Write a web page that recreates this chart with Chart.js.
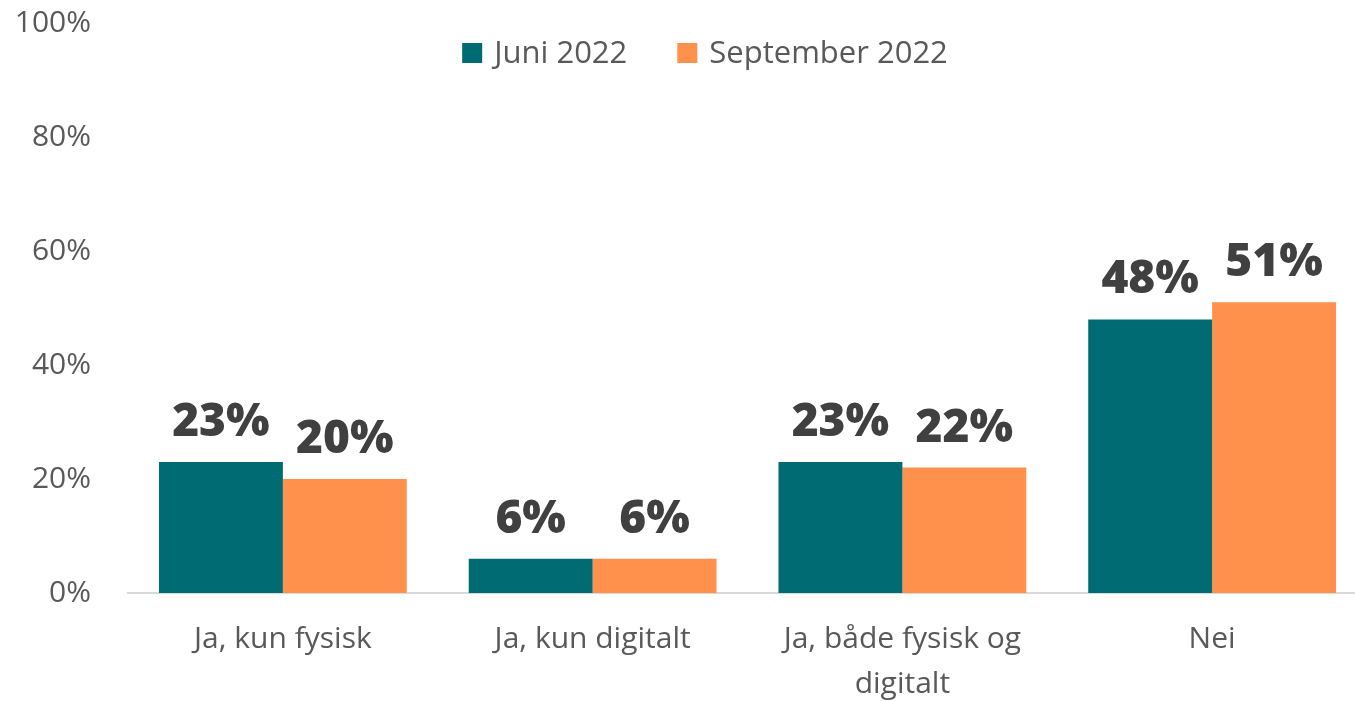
<html>
  <head>
    <title>Juni vs September 2022</title>
    <script src="https://cdn.jsdelivr.net/npm/chart.js"></script>
    <style>
      body { margin: 0; background: #fff; overflow: hidden; }
      #wrap { width: 1367px; height: 701px; }
    </style>
  </head>
  <body>
    <div id="wrap">
      <canvas id="myChart"></canvas>
    </div>

  <script>
    // data
    const categories = [["Ja, kun fysisk"], ["Ja, kun digitalt"], ["Ja, både fysisk og", "digitalt"], ["Nei"]];
    const seriesNames = ["Juni 2022", "September 2022"];
    const juni = [23, 6, 23, 48];
    const september = [20, 6, 22, 51];
    const yTicks = [0, 20, 40, 60, 80, 100];

    const colors = ["#006B73", "#FF914D"];
    const fontFam = "'Open Sans', sans-serif";

    // value labels above each bar
    const valueLabels = {
      id: "valueLabels",
      afterDatasetsDraw(chart) {
        const ctx = chart.ctx;
        ctx.save();
        ctx.font = "800 46px " + fontFam;
        ctx.fillStyle = "#404040";
        ctx.textAlign = "center";
        ctx.textBaseline = "alphabetic";
        chart.data.datasets.forEach((ds, i) => {
          chart.getDatasetMeta(i).data.forEach((bar, j) => {
            ctx.fillText(ds.data[j] + "%", bar.x, bar.y - 26);
          });
        });
        ctx.restore();
      }
    };

    // excel style legend sitting inside the plot area
    const topLegend = {
      id: "topLegend",
      afterDraw(chart) {
        const ctx = chart.ctx;
        ctx.save();
        ctx.font = "31px " + fontFam;
        const box = 20, gap = 12, spacing = 50;
        const items = chart.data.datasets.map(ds => ({ text: ds.label, color: ds.backgroundColor, w: ctx.measureText(ds.label).width }));
        let total = 0;
        items.forEach((it, i) => { total += box + gap + it.w + (i < items.length - 1 ? spacing : 0); });
        let x = 705 - total / 2;
        const cy = 53;
        items.forEach(it => {
          ctx.fillStyle = it.color;
          ctx.fillRect(x, cy - box / 2, box, box);
          x += box + gap;
          ctx.fillStyle = "#595959";
          ctx.textAlign = "left";
          ctx.textBaseline = "middle";
          ctx.fillText(it.text, x, cy + 1);
          x += it.w + spacing;
        });
        ctx.restore();
      }
    };

    const data = {
      labels: categories,
      datasets: [
        { label: seriesNames[0], data: juni, backgroundColor: colors[0] },
        { label: seriesNames[1], data: september, backgroundColor: colors[1] }
      ]
    };

    const config = {
      type: "bar",
      data: data,
      plugins: [valueLabels, topLegend],
      options: {
        responsive: true,
        maintainAspectRatio: false,
        animation: false,
        layout: { padding: { top: 23, right: 0, left: 0, bottom: 0 } },
        datasets: { bar: { categoryPercentage: 0.80, barPercentage: 1.0 } },
        plugins: {
          legend: { display: false },
          tooltip: { enabled: false }
        },
        scales: {
          x: {
            grid: { display: false, drawTicks: false },
            border: { display: true, color: "#D9D9D9", width: 2 },
            ticks: {
              color: "#595959",
              font: { family: fontFam, size: 30, lineHeight: 1.5 },
              padding: 24,
              maxRotation: 0,
              autoSkip: false
            },
            afterFit(scale) {
              scale.height = 108;
              scale.paddingLeft = 0;
              scale.paddingRight = 0;
            }
          },
          y: {
            min: 0,
            max: 100,
            afterBuildTicks(scale) { scale.ticks = yTicks.map(v => ({ value: v })); },
            grid: { display: false, drawTicks: false },
            border: { display: false },
            ticks: {
              color: "#595959",
              font: { family: fontFam, size: 30 },
              padding: 37,
              callback: v => v + "%"
            },
            afterFit(scale) {
              scale.width = 128;
              scale.paddingTop = 0;
              scale.paddingBottom = 0;
            }
          }
        }
      }
    };

    window.myChart = new Chart(document.getElementById("myChart"), config);
  </script>
  </body>
</html>
